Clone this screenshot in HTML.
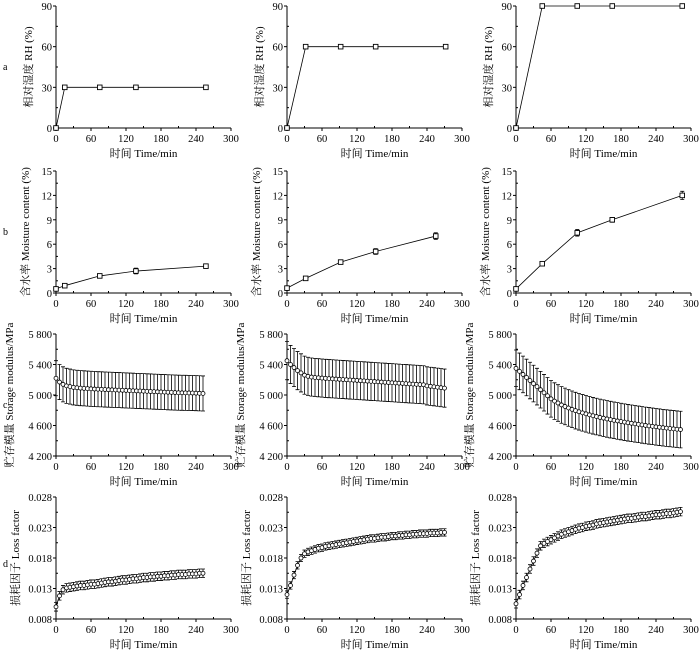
<!DOCTYPE html>
<html><head><meta charset="utf-8"><style>
html,body{margin:0;padding:0;background:#fff;}
svg{display:block;font-family:"Liberation Serif","Noto Serif CJK SC",serif;}
</style></head><body>
<svg id="chart" width="700" height="651" viewBox="0 0 700 651" xmlns="http://www.w3.org/2000/svg"></svg>
<script>
// ---- data ----
const rhTimes1 = [0, 15, 75, 137, 257];
const rhValues1 = [0, 30, 30, 30, 30];
const rhTimes2 = [0, 32, 92, 152, 272];
const rhValues2 = [0, 60, 60, 60, 60];
const rhTimes3 = [0, 45, 105, 165, 285];
const rhValues3 = [0, 90, 90, 90, 90];

const mcTimes1 = [0, 15, 75, 137, 257];
const mcValues1 = [0.5, 0.9, 2.1, 2.7, 3.3];
const mcErr1 = [0.1, 0.15, 0.15, 0.35, 0.15];
const mcTimes2 = [0, 32, 92, 152, 255];
const mcValues2 = [0.6, 1.8, 3.8, 5.1, 7.0];
const mcErr2 = [0.1, 0.15, 0.15, 0.35, 0.4];
const mcTimes3 = [0, 45, 105, 165, 285];
const mcValues3 = [0.5, 3.6, 7.4, 9.0, 12.0];
const mcErr3 = [0.1, 0.25, 0.4, 0.3, 0.5];

const timesDense = [0,6,12,18,24,30,36,42,48,54,60,66,72,78,84,90,96,102,108,114,120,126,132,138,144,150,156,162,168,174,180,186,192,198,204,210,216,222,228,234,240,246,252,258,264,270,276,282];

const smValues1 = [5220,5170,5140,5120,5110,5100,5095,5090,5087,5084,5081,5078,5076,5074,5072,5070,5068,5066,5064,5062,5060,5058,5056,5054,5052,5050,5048,5046,5044,5042,5040,5038,5036,5034,5032,5030,5029,5028,5027,5026,5024,5022,5020];
const smErr1 = 230;
const smValues2 = [5450,5400,5360,5320,5290,5260,5245,5235,5230,5226,5222,5218,5215,5212,5209,5206,5203,5200,5197,5194,5191,5188,5185,5182,5179,5176,5173,5170,5167,5164,5161,5158,5155,5152,5149,5146,5143,5140,5137,5134,5120,5114,5108,5102,5096,5090];
const smErr2 = 250;
const smValues3 = [5350,5310,5270,5230,5190,5150,5110,5070,5030,4990,4950,4920,4895,4870,4850,4830,4812,4795,4780,4766,4753,4740,4728,4717,4706,4696,4686,4677,4668,4660,4652,4644,4636,4629,4622,4615,4608,4601,4595,4589,4583,4577,4571,4566,4561,4556,4551,4547];
const smErr3 = 240;

const lfValues1 = [0.0100,0.0118,0.0128,0.0131,0.0132,0.0133,0.0134,0.0135,0.0135,0.0136,0.0137,0.0137,0.0138,0.0139,0.0140,0.0141,0.0141,0.0142,0.0143,0.0144,0.0144,0.0145,0.0146,0.0146,0.0147,0.0148,0.0148,0.0149,0.0149,0.0150,0.0150,0.0151,0.0151,0.0152,0.0152,0.0153,0.0153,0.0153,0.0154,0.0154,0.0154,0.0155,0.0155];
const lfErr1 = 0.0007;
const lfValues2 = [0.0120,0.0135,0.0152,0.0168,0.0180,0.0187,0.0190,0.0192,0.0194,0.0196,0.0197,0.0199,0.0200,0.0201,0.0202,0.0203,0.0204,0.0205,0.0206,0.0207,0.0208,0.0209,0.0210,0.0211,0.0212,0.0212,0.0213,0.0214,0.0214,0.0215,0.0216,0.0216,0.0217,0.0217,0.0218,0.0218,0.0219,0.0219,0.0220,0.0220,0.0220,0.0221,0.0221,0.0221,0.0222,0.0222];
const lfErr2 = 0.0006;
const lfValues3 = [0.0105,0.0120,0.0135,0.0148,0.0162,0.0175,0.0188,0.0200,0.0204,0.0207,0.0210,0.0213,0.0216,0.0219,0.0221,0.0223,0.0225,0.0227,0.0229,0.0230,0.0232,0.0233,0.0234,0.0236,0.0237,0.0238,0.0239,0.0240,0.0241,0.0242,0.0243,0.0244,0.0245,0.0245,0.0246,0.0247,0.0248,0.0248,0.0249,0.0250,0.0251,0.0251,0.0252,0.0253,0.0253,0.0254,0.0255,0.0256];
const lfErr3 = 0.0007;

const xTicks = [0, 60, 120, 180, 240, 300];
const rhTicks = [0, 30, 60, 90];
const mcTicks = [0, 3, 6, 9, 12, 15];
const smTicks = [4200, 4600, 5000, 5400, 5800];
const smTickLabels = ["4 200", "4 600", "5 000", "5 400", "5 800"];
const lfTicks = [0.008, 0.013, 0.018, 0.023, 0.028];
const lfTickLabels = ["0.008", "0.013", "0.018", "0.023", "0.028"];

// ---- drawing ----
const NS = "http://www.w3.org/2000/svg";
const svg = document.getElementById("chart");
function mk(tag, attrs, parent) {
  const e = document.createElementNS(NS, tag);
  for (const k in attrs) e.setAttribute(k, attrs[k]);
  (parent || svg).appendChild(e);
  return e;
}
const colX = [56, 287, 516];
const W = 175;
const rowTop = [6, 171, 334, 497];
const H = 122;
const titleOff = [24, 27, 43, 37];
const ytitles = ["相对湿度 RH (%)", "含水率 Moisture content (%)", "贮存模量 Storage modulus/MPa", "损耗因子 Loss factor"];
const rowLetters = ["a", "b", "c", "d"];

function drawPanel(r, c, yMin, yMax, yTicks, yLabels) {
  const g = mk("g", {});
  
  
  const x0 = colX[c], y0 = rowTop[r] + H;
  const sx = t => x0 + t / 300 * W;
  const sy = v => y0 - (v - yMin) / (yMax - yMin) * H;
  const ax = mk("path", {d: `M${x0} ${rowTop[r]}V${y0}H${x0 + W}`, fill: "none", stroke: "#000", "stroke-width": 1}, g);
  
  
  xTicks.forEach(t => {
    mk("line", {x1: sx(t), x2: sx(t), y1: y0, y2: y0 + 3, stroke: "#000"}, g);
    const tx = mk("text", {x: sx(t), y: y0 + 14, "text-anchor": "middle", "font-size": 10.5}, g);
    tx.textContent = t;
    
    
    if (t < 300) mk("line", {x1: sx(t + 30), x2: sx(t + 30), y1: y0, y2: y0 - 2, stroke: "#000"}, g);
  });
  const xt = mk("text", {x: x0 + W / 2, y: y0 + 29, "text-anchor": "middle", "font-size": 11}, g);
  xt.textContent = "时间 Time/min";
  
  
  yTicks.forEach((v, i) => {
    mk("line", {x1: x0 - 3, x2: x0, y1: sy(v), y2: sy(v), stroke: "#000"}, g);
    const ty = mk("text", {x: x0 - 4, y: sy(v) + 4, "text-anchor": "end", "font-size": 10.5}, g);
    ty.textContent = yLabels[i];
    
    
    if (i < yTicks.length - 1) {
      const m = (v + yTicks[i + 1]) / 2;
      mk("line", {x1: x0, x2: x0 + 2, y1: sy(m), y2: sy(m), stroke: "#000"}, g);
    }
  });
  const yx = x0 - titleOff[r], yy = rowTop[r] + H / 2;
  const yt = mk("text", {x: yx, y: yy, "text-anchor": "middle", "font-size": 11, transform: `rotate(-90 ${yx} ${yy})`}, g);
  yt.textContent = ytitles[r];
  
  
  return {g, sx, sy};
}

function series(p, times, vals, errs, shape) {
  const n = Math.min(times.length, vals.length);
  let d = "";
  for (let i = 0; i < n; i++) d += (i ? "L" : "M") + p.sx(times[i]) + " " + p.sy(vals[i]);
  const ln = mk("path", {d, fill: "none", stroke: "#000", "stroke-width": 0.8}, p.g);
  
  
  for (let i = 0; i < n; i++) {
    const x = p.sx(times[i]), y = p.sy(vals[i]);
    const e = errs == null ? 0 : (Array.isArray(errs) ? errs[i] : errs);
    if (e) {
      const yt = p.sy(vals[i] + e), yb = p.sy(vals[i] - e);
      const eb = mk("path", {d: `M${x} ${yt}V${yb}M${x - 2} ${yt}H${x + 2}M${x - 2} ${yb}H${x + 2}`, stroke: "#000", "stroke-width": 0.8, fill: "none"}, p.g);
      
      
    }
    let m;
    if (shape === "sq") m = mk("rect", {x: x - 2.3, y: y - 2.3, width: 4.6, height: 4.6, fill: "#fff", stroke: "#000", "stroke-width": 0.9}, p.g);
    else m = mk("circle", {cx: x, cy: y, r: 2, fill: "#fff", stroke: "#000", "stroke-width": 0.8}, p.g);
    
    
  }
}

const rhT = [rhTimes1, rhTimes2, rhTimes3], rhV = [rhValues1, rhValues2, rhValues3];
const mcT = [mcTimes1, mcTimes2, mcTimes3], mcV = [mcValues1, mcValues2, mcValues3], mcE = [mcErr1, mcErr2, mcErr3];
const smV = [smValues1, smValues2, smValues3], smE = [smErr1, smErr2, smErr3];
const lfV = [lfValues1, lfValues2, lfValues3], lfE = [lfErr1, lfErr2, lfErr3];
for (let c = 0; c < 3; c++) {
  let p = drawPanel(0, c, 0, 90, rhTicks, rhTicks);
  series(p, rhT[c], rhV[c], null, "sq");
  p = drawPanel(1, c, 0, 15, mcTicks, mcTicks);
  series(p, mcT[c], mcV[c], mcE[c], "sq");
  p = drawPanel(2, c, 4200, 5800, smTicks, smTickLabels);
  series(p, timesDense, smV[c], smE[c], "o");
  p = drawPanel(3, c, 0.008, 0.028, lfTicks, lfTickLabels);
  series(p, timesDense, lfV[c], lfE[c], "o");
}
[70, 235, 408, 567].forEach((y, i) => {
  const t = mk("text", {x: 3, y: y, "font-size": 10}, svg);
  t.textContent = rowLetters[i];
  
  
});
</script>
</body></html>
